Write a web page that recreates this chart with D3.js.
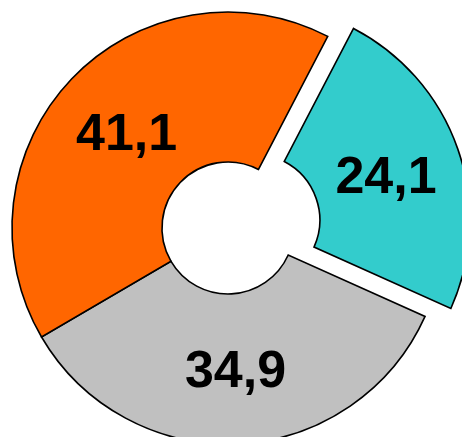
<!DOCTYPE html>
<html><head><meta charset="utf-8">
<script src="https://cdn.jsdelivr.net/npm/d3@7"></script>
<style>html,body{margin:0;padding:0;background:#fff;}svg{display:block;}</style>
</head><body>
<svg id="chart" width="462" height="437"></svg>
<script>
const categories = ["A", "B", "C"];
const values = [24.1, 34.9, 41.1];
const labels = ["24,1", "34,9", "41,1"];
const colors = ["#33CCCC", "#C0C0C0", "#FF6600"];
const exploded = [true, false, false];

const svg = d3.select("#chart");
const cx = 228, cy = 228, rOuter = 216, rInner = 66, explode = 27, labelR = 140;
const deg = Math.PI / 180;
const start = 27.5 * deg;

const pie = d3.pie().sort(null).value(d => d).startAngle(start).endAngle(start + 2 * Math.PI);
const arcs = pie(values);
const arc = d3.arc().innerRadius(rInner).outerRadius(rOuter);

const g = svg.append("g").attr("transform", `translate(${cx},${cy})`);

const slices = g.selectAll("g.slice").data(arcs).enter().append("g")
  .attr("class", "slice")
  .attr("transform", (d, i) => {
    if (!exploded[i]) return null;
    const a = (d.startAngle + d.endAngle) / 2 + 2 * deg;
    return `translate(${Math.sin(a) * explode},${-Math.cos(a) * explode})`;
  });

slices.append("path")
  .attr("d", arc)
  .attr("fill", (d, i) => colors[i])
  .attr("stroke", "#000")
  .attr("stroke-width", 1.6)
  .attr("stroke-linejoin", "miter");

slices.append("text")
  .attr("x", d => Math.sin((d.startAngle + d.endAngle) / 2) * labelR)
  .attr("y", d => -Math.cos((d.startAngle + d.endAngle) / 2) * labelR)
  .attr("dy", "0.36em")
  .attr("text-anchor", "middle")
  .attr("font-family", "'Liberation Sans', Arial, sans-serif")
  .attr("font-weight", "bold")
  .attr("font-size", 52)
  .attr("fill", "#000")
  .text((d, i) => labels[i]);
</script>
</body></html>
